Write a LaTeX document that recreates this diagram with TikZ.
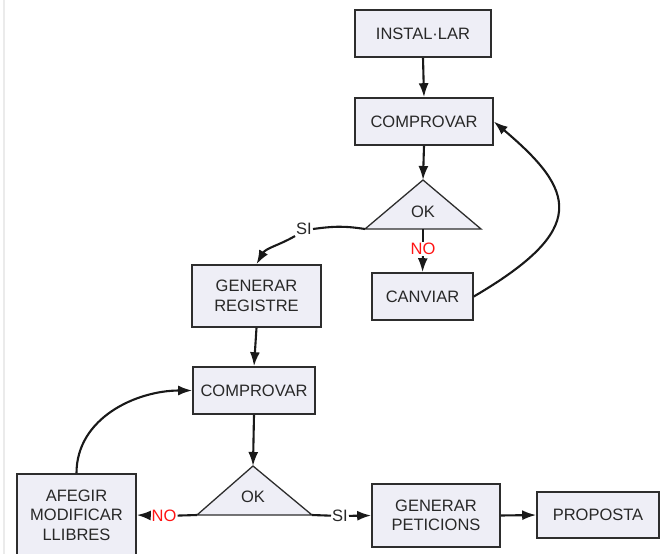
\documentclass[tikz,border=0pt]{standalone}
\usepackage{fontspec}
\setmainfont{Liberation Sans}
\usetikzlibrary{arrows.meta}
\definecolor{boxfill}{RGB}{238,238,246}
\definecolor{boxline}{RGB}{45,45,45}
\definecolor{txt}{RGB}{40,40,40}
\definecolor{nored}{RGB}{255,20,20}
\begin{document}
\begin{tikzpicture}[x=1pt,y=-1pt,
  box/.style={draw=boxline,fill=boxfill,line width=1.6pt,inner sep=0pt,
    text=txt,align=center,font=\fontsize{16.5}{19.5}\selectfont},
  tri/.style={draw=boxline,fill=boxfill,line width=1.3pt},
  conn/.style={line width=2.1pt,black!90},
  arr/.style={conn,-{Latex[length=14pt,width=10pt]}},
  lbl/.style={inner sep=1pt,fill=white,font=\fontsize{16.5}{18}\selectfont,text=txt},
  nolbl/.style={lbl,text=nored}]
\useasboundingbox (0,0) rectangle (664,554);
\fill[white] (0,0) rectangle (664,554);
\draw[black!8,line width=2pt] (4,0) -- (4,554);

% boxes
\node[box,minimum width=136,minimum height=47] (inst) at (423,33.5) {INSTAL·LAR};
\node[box,minimum width=138,minimum height=47] (comp1) at (424,121.5) {COMPROVAR};
\node[box,minimum width=101,minimum height=47] (canv) at (422.5,296.5) {CANVIAR};
\node[box,minimum width=129,minimum height=62] (greg) at (256.5,296) {GENERAR\\REGISTRE};
\node[box,minimum width=122,minimum height=47] (comp2) at (254,390.5) {COMPROVAR};
\node[box,minimum width=119,minimum height=82] (afeg) at (76.5,515) {AFEGIR\\MODIFICAR\\LLIBRES};
\node[box,minimum width=128,minimum height=63] (gpet) at (436,515.5) {GENERAR\\PETICIONS};
\node[box,minimum width=122,minimum height=46] (prop) at (598,515) {PROPOSTA};

% triangles
\coordinate (t1a) at (423,180);
\coordinate (t1l) at (365,229);
\coordinate (t1r) at (481,229);
\coordinate (t1b) at (423,229);
\draw[tri] (t1a) -- (t1r) -- (t1l) -- cycle;
\node[text=txt,font=\fontsize{16.5}{18}\selectfont] (ok1) at (423,212) {OK};

\coordinate (t2a) at (253,466);
\coordinate (t2l) at (197,515);
\coordinate (t2r) at (312,515);
\draw[tri] (t2a) -- (t2r) -- (t2l) -- cycle;
\node[text=txt,font=\fontsize{16.5}{18}\selectfont] (ok2) at (253,497) {OK};

% labels
\node[nolbl] (no1) at (423,249) {NO};
\node[lbl] (si1) at (304,229) {SI};
\node[nolbl] (no2) at (164,516) {NO};
\node[lbl] (si2) at (340,516) {SI};

% connectors
\draw[arr] (inst.south) -- (comp1.north);
\draw[arr] (comp1.south) -- (t1a);
\draw[conn] (t1b) -- (no1);
\draw[arr] (no1) -- (canv.north);
\draw[arr] (canv.east) .. controls (589,229) and (576,191) .. (comp1.east);
\draw[conn] (t1l) .. controls (345,226) and (335,226) .. (si1.east);
\draw[arr] (si1.south west) to[out=-150,in=60] (greg.north);
\draw[arr] (greg.south) -- (comp2.north);
\draw[arr] (comp2.south) -- (t2a);
\draw[conn] (t2l) -- (no2);
\draw[arr] (no2) -- (afeg.east);
\draw[arr] (afeg.north) to[out=90,in=180] (comp2.west);
\draw[conn] (t2r) -- (si2);
\draw[arr] (si2) -- (gpet.west);
\draw[arr] (gpet.east) -- (prop.west);
\end{tikzpicture}
\end{document}
